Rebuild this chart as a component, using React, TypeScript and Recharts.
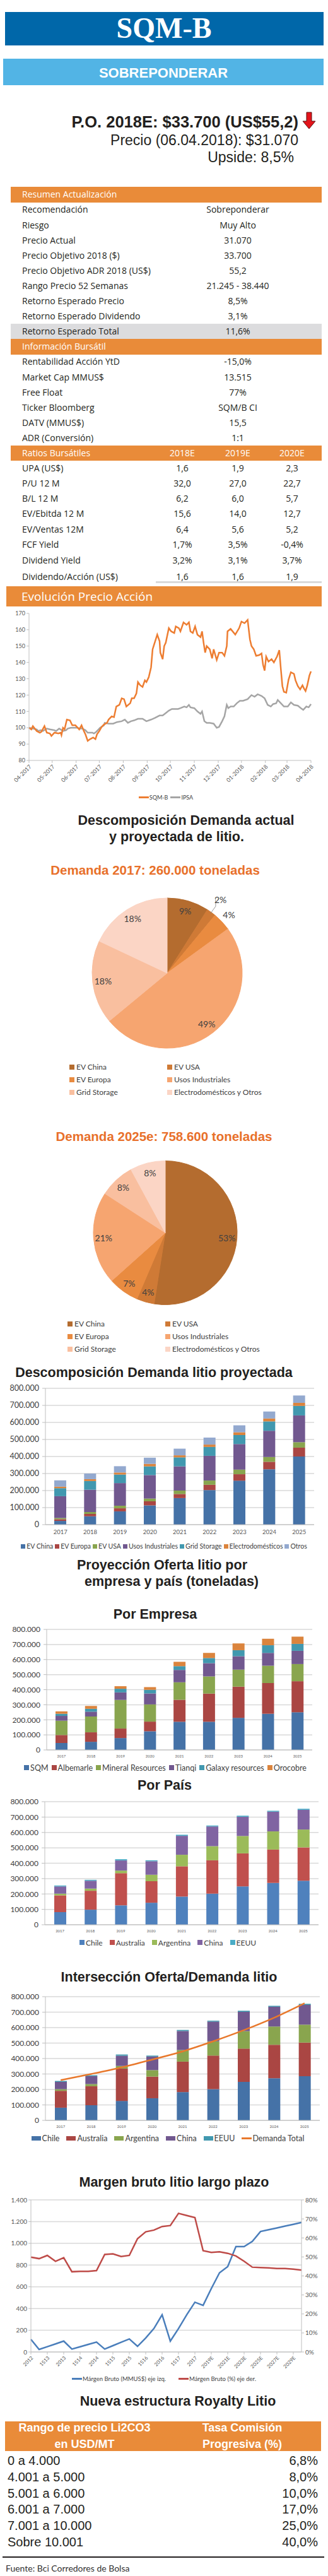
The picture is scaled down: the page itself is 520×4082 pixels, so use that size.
import React from 'react';
import {
  Bar,
  CartesianGrid,
  Cell,
  ComposedChart,
  Line,
  LineChart,
  Pie,
  PieChart,
  XAxis,
  YAxis
} from 'recharts';

const ARIAL = '"Liberation Sans", Arial, sans-serif';
const SANS = 'Lato, "Open Sans", sans-serif';
const MYRIAD = '"Open Sans", Lato, sans-serif';
const SERIF = '"Liberation Serif", "DejaVu Serif", serif';
const INK = '#231f20';
const AXIS_TXT = '#595959';
const GRID = '#d9d9d9';
const ORANGE = '#e98b39';

// ---------- tabla resumen
const resumenLabels = [
  'Recomendación',
  'Riesgo',
  'Precio Actual',
  'Precio Objetivo 2018 ($)',
  'Precio Objetivo ADR 2018 (US$)',
  'Rango Precio 52 Semanas',
  'Retorno Esperado Precio',
  'Retorno Esperado Dividendo',
  'Retorno Esperado Total'
];
const resumenValues = ['Sobreponderar', 'Muy Alto', '31.070', '33.700', '55,2', '21.245 - 38.440', '8,5%', '3,1%', '11,6%'];
const bursatilLabels = ['Rentabilidad Acción YtD', 'Market Cap MMUS$', 'Free Float', 'Ticker Bloomberg', 'DATV (MMUS$)', 'ADR (Conversión)'];
const bursatilValues = ['-15,0%', '13.515', '77%', 'SQM/B CI', '15,5', '1:1'];
const ratioYears = ['2018E', '2019E', '2020E'];
const ratioLabels = ['UPA (US$)', 'P/U 12 M', 'B/L 12 M', 'EV/Ebitda 12 M', 'EV/Ventas 12M', 'FCF Yield', 'Dividend Yield', 'Dividendo/Acción (US$)'];
const ratioValues = [
  ['1,6', '1,9', '2,3'],
  ['32,0', '27,0', '22,7'],
  ['6,2', '6,0', '5,7'],
  ['15,6', '14,0', '12,7'],
  ['6,4', '5,6', '5,2'],
  ['1,7%', '3,5%', '-0,4%'],
  ['3,2%', '3,1%', '3,7%'],
  ['1,6', '1,6', '1,9']
];

// ---------- evolucion precio (base 100, dias desde 04-2017)
const monthLabels = ['04-2017', '05-2017', '06-2017', '07-2017', '08-2017', '09-2017', '10-2017', '11-2017', '12-2017', '01-2018', '02-2018', '03-2018', '04-2018'];
const monthDays = [0, 30, 61, 91, 122, 153, 183, 214, 245, 275, 306, 334, 365];
const sqmDays = [0, 3, 5, 10, 14, 16, 20, 23, 27, 29, 33, 38, 41, 42, 44, 46, 49, 53, 56, 60, 63, 65, 68, 71, 73, 76, 79, 83, 86, 88, 91, 94, 97, 101, 103, 107, 110, 113, 117, 120, 123, 126, 131, 133, 136, 139, 141, 144, 147, 150, 152, 155, 158, 160, 162, 166, 169, 170, 173, 175, 177, 181, 184, 188, 190, 194, 196, 200, 204, 207, 209, 212, 215, 218, 222, 224, 226, 228, 230, 234, 237, 239, 243, 246, 250, 253, 256, 257, 261, 267, 272, 275, 279, 283, 286, 288, 291, 294, 298, 301, 303, 305, 307, 310, 314, 317, 321, 324, 326, 328, 330, 333, 336, 339, 343, 345, 348, 351, 354, 356, 358, 360, 363, 365];
const sqmValues = [100, 99, 101, 98, 97, 97.5, 101, 97, 96.5, 95, 97, 96.5, 97, 95.5, 100, 99, 105, 104.5, 101.5, 101.5, 100, 99, 101.5, 98, 96, 92, 93, 94, 93, 96, 98, 100.5, 102, 103, 105, 107, 106.5, 113, 114, 118, 117.5, 113, 115, 118, 118, 121, 128, 126, 125, 129, 128, 131, 137, 148, 151, 157, 153, 146, 142, 150, 152, 161, 159, 158, 162, 161, 159, 164.5, 163, 164.5, 159, 158, 162, 157, 155.5, 159, 152, 146, 150, 148, 142.5, 148, 141.5, 146, 146, 144, 150, 159, 160.5, 157, 161, 165, 164, 166, 154, 150, 148, 144, 144.5, 145.5, 138.5, 135, 143.5, 140.5, 142, 140, 143.5, 147.5, 136, 125.5, 122, 121.5, 129.5, 134, 133, 129, 125.5, 123.5, 126, 124, 122.5, 125.5, 132, 134.5];
const ipsaDays = [0, 5, 10, 12, 15, 18, 23, 27, 33, 35, 39, 44, 48, 50, 54, 60, 63, 65, 69, 73, 76, 82, 84, 87, 90, 92, 97, 98, 103, 109, 114, 120, 124, 128, 132, 136, 141, 147, 152, 158, 163, 169, 173, 177, 181, 185, 189, 193, 196, 201, 204, 207, 209, 214, 218, 222, 224, 227, 230, 234, 239, 243, 246, 250, 253, 256, 258, 261, 265, 269, 273, 277, 283, 288, 292, 296, 301, 305, 309, 313, 316, 320, 322, 326, 330, 335, 339, 343, 348, 352, 355, 359, 362, 365];
const ipsaValues = [100, 99.5, 99, 98, 98.5, 98, 99.5, 99, 98.5, 98, 99.5, 98, 98.5, 99.5, 100, 100, 100, 99.5, 99.5, 98.5, 97, 97, 96.5, 97.5, 99, 100, 101.5, 103, 102.5, 102.5, 103.5, 104, 105, 103, 104, 104.5, 105.5, 105.5, 104, 105, 106, 107.5, 107.5, 109, 110.5, 111.5, 111.5, 111.5, 112, 113, 112.5, 114, 112.5, 112, 110, 108.5, 110, 104, 103, 103, 102.5, 100, 100.5, 104, 107, 114, 112, 113, 113, 115, 116.5, 116.5, 117.5, 120, 119, 120.5, 119.5, 118, 114, 113, 114.5, 115, 117, 115, 113, 113, 115.5, 114, 113.5, 112, 111, 113, 112.5, 114.5];

// ---------- demanda (tortas, %)
const pieCategories = ['EV China', 'EV USA', 'EV Europa', 'Usos Industriales', 'Grid Storage', 'Electrodomésticos y Otros'];
const pieColors = ['#b46c2f', '#cf7a36', '#e98b40', '#f6a570', '#f9bf9f', '#fbd5c5'];
const demand2017Share = [9, 2, 4, 49, 18, 18];
const demand2025Share = [53, 4, 7, 21, 8, 8];

// ---------- demanda proyectada (miles de toneladas)
const years = ['2017', '2018', '2019', '2020', '2021', '2022', '2023', '2024', '2025'];
const evChina = [22, 49, 78, 113, 156, 203, 258, 325, 400];
const evEuropa = [10, 14, 18, 24, 24, 31, 38, 44, 52];
const evUsa = [7, 11, 15, 16, 20, 25, 27, 28, 32];
const usosInd = [128, 131, 133, 138, 142, 145, 150, 154, 157];
const gridStorage = [47, 51, 50, 51, 53, 52, 53, 55, 56];
const electro = [9, 11, 12, 15, 12, 14, 16, 17, 18];
const otros = [37, 33, 37, 36, 39, 41, 41, 41, 43];

// ---------- oferta por empresa (miles de toneladas)
const sqm = [46, 54, 79, 124, 187, 187, 213, 240, 250];
const albemarle = [53, 63, 63, 64, 146, 187, 207, 204, 206];
const mineralRes = [95, 105, 190, 114, 116, 114, 113, 115, 114];
const tianqi = [32, 32, 50, 73, 82, 88, 89, 85, 88];
const galaxy = [14, 19, 24, 24, 25, 34, 40, 51, 46];
const orocobre = [16, 19, 17, 18, 29, 34, 45, 43, 48];

// ---------- oferta por pais (miles de toneladas)
const chile = [82, 98, 126, 143, 183, 202, 249, 272, 286];
const australia = [109, 123, 209, 140, 197, 217, 215, 217, 217];
const argentina = [11, 14, 17, 42, 75, 92, 113, 118, 116];
const china = [47, 51, 66, 88, 123, 128, 125, 128, 128];
const eeuu = [6, 6, 8, 6, 7, 6, 7, 6, 7];

// ---------- margen bruto
const margenPeriods = ['2012', '1T13', '1S13', '9M13', '2013', '1T14', '1S14', '9M14', '2014', '1T15', '1S15', '9M15', '2015', '1T16', '1S16', '9M16', '2016', '1T17', '1S17', '9M17', '2017', '2018E', '2019E', '2020E', '2021E', '2022E', '2023E', '2024E', '2025E', '2026E', '2027E', '2028E', '2029E', '2030E'];
const margenMMUS = [116, 23, 49, 74, 100, 27, 48, 70, 91, 27, 58, 89, 120, 52, 129, 216, 342, 100, 216, 342, 458, 429, 584, 729, 786, 970, 970, 1018, 1109, 1126, 1142, 1159, 1175, 1192];
const margenPct = [49.9, 49.1, 50.8, 47.7, 49.6, 42.2, 42.4, 42.4, 42.8, 51.3, 51.6, 50.2, 50.8, 59.6, 63.2, 64.1, 66.0, 66.5, 72.9, 71.8, 70.7, 53.3, 52.4, 52.7, 51.9, 50.5, 47.7, 44.6, 44.4, 44.2, 43.9, 43.9, 43.6, 43.1];

// ---------- royalty
const royaltyRanges = ['0 a 4.000', '4.001 a 5.000', '5.001 a 6.000', '6.001 a 7.000', '7.001 a 10.000', 'Sobre 10.001'];
const royaltyRates = ['6,8%', '8,0%', '10,0%', '17,0%', '25,0%', '40,0%'];

const fmtMiles = (v: number) => String(v).replace(/\B(?=(\d{3})+(?!\d))/g, '.');
const yTicks = [0, 100000, 200000, 300000, 400000, 500000, 600000, 700000, 800000];

function Text({ x, y, size, children, align = 'left', weight = 400, color = INK, font = SANS }: any) {
  const lh = Math.round(size * 1.3);
  const base: React.CSSProperties = {
    position: 'absolute',
    top: y - lh / 2,
    height: lh,
    lineHeight: `${lh}px`,
    fontSize: size,
    fontWeight: weight,
    color,
    fontFamily: font,
    whiteSpace: 'nowrap'
  };
  if (align === 'left') return <div style={{ ...base, left: x }}>{children}</div>;
  if (align === 'right') return <div style={{ ...base, right: 520 - x, textAlign: 'right' }}>{children}</div>;
  return <div style={{ ...base, left: x - 300, width: 600, textAlign: 'center' }}>{children}</div>;
}

function Box({ x, y, w, h, color }: any) {
  return <div style={{ position: 'absolute', left: x, top: y, width: w, height: h, background: color }} />;
}

function Title({ x, y, children }: any) {
  return (
    <Text x={x} y={y} size={21.5} align="center" weight={700} font={ARIAL}>
      {children}
    </Text>
  );
}

function HtmlLegend({ cx, y, items, fontSize, gap, swatchW = 7, swatchH = 7 }: any) {
  return (
    <div
      style={{
        position: 'absolute',
        left: cx - 300,
        width: 600,
        top: y - 8,
        height: 16,
        display: 'flex',
        justifyContent: 'center',
        alignItems: 'center',
        gap,
        fontFamily: SANS,
        fontSize,
        color: '#404040',
        whiteSpace: 'nowrap'
      }}
    >
      {items.map((it: any) => (
        <div key={it.label} style={{ display: 'flex', alignItems: 'center' }}>
          {it.line ? (
            <span style={{ display: 'inline-block', width: 16, height: 3, background: it.color, marginRight: 1 }} />
          ) : (
            <span style={{ display: 'inline-block', width: swatchW, height: swatchH, background: it.color, marginRight: 2 }} />
          )}
          {it.label}
        </div>
      ))}
    </div>
  );
}

const ROW0 = 296;
const ROW_H = 24.1;

function SummaryTable() {
  const rows: any[] = [];
  rows.push({ head: true, label: 'Resumen Actualización' });
  resumenLabels.forEach((l, i) => rows.push({ label: l, vals: [resumenValues[i]], gray: i === resumenLabels.length - 1 }));
  rows.push({ head: true, label: 'Información Bursátil' });
  bursatilLabels.forEach((l, i) => rows.push({ label: l, vals: [bursatilValues[i]] }));
  rows.push({ head: true, label: 'Ratios Bursátiles', cols: ratioYears });
  ratioLabels.forEach((l, i) => rows.push({ label: l, vals: ratioValues[i] }));
  const colX = [289, 377, 463];
  return (
    <>
      {rows.map((r, i) => {
        const top = ROW0 + ROW_H * i + (i >= 24 ? (i - 23) * 1.5 : 0);
        const cy = top + 12.3;
        const color = r.head ? '#ffffff' : INK;
        const vals: string[] = r.cols || r.vals || [];
        return (
          <React.Fragment key={r.label}>
            {r.head && <Box x={17} y={top} w={493} h={24.5} color={ORANGE} />}
            {r.gray && <Box x={17} y={top} w={493} h={24} color="#dcdcde" />}
            <Text x={35} y={cy} size={14} color={color} font={MYRIAD}>
              {r.label}
            </Text>
            {vals.length === 1 && (
              <Text x={377} y={cy} size={14} align="center" color={color} font={MYRIAD}>
                {vals[0]}
              </Text>
            )}
            {vals.length === 3 &&
              vals.map((v, k) => (
                <Text key={k} x={colX[k]} y={cy} size={14} align="center" color={color} font={MYRIAD}>
                  {v}
                </Text>
              ))}
          </React.Fragment>
        );
      })}
      <Box x={247} y={921} w={263} h={3} color="#d9d9d9" />
    </>
  );
}

function PriceChart() {
  const sqmData = sqmDays.map((d, i) => ({ d, v: sqmValues[i] }));
  const ipsaData = ipsaDays.map((d, i) => ({ d, v: ipsaValues[i] }));
  return (
    <div style={{ position: 'absolute', left: 0, top: 962 }}>
      <LineChart width={520} height={300} margin={{ top: 10, right: 27, left: 6, bottom: 0 }}>
        <XAxis
          dataKey="d"
          type="number"
          domain={[0, 365]}
          ticks={monthDays}
          interval={0}
          tickFormatter={(v) => monthLabels[monthDays.indexOf(v)]}
          angle={-45}
          textAnchor="end"
          height={57}
          stroke="#bfbfbf"
          tickSize={4}
          tick={{ fontSize: 9, fill: AXIS_TXT, fontFamily: SANS }}
        />
        <YAxis
          type="number"
          domain={[80, 170]}
          ticks={[80, 90, 100, 110, 120, 130, 140, 150, 160, 170]}
          width={40}
          stroke="#bfbfbf"
          tickSize={4}
          tick={{ fontSize: 9, fill: AXIS_TXT, fontFamily: SANS }}
        />
        <Line data={ipsaData} dataKey="v" type="linear" stroke="#a5a5a5" strokeWidth={2.5} dot={false} isAnimationActive={false} />
        <Line data={sqmData} dataKey="v" type="linear" stroke="#ed7d31" strokeWidth={2.5} dot={false} isAnimationActive={false} />
      </LineChart>
    </div>
  );
}

const RAD = Math.PI / 180;

function makePieLabel(withOutside: boolean) {
  return (props: any) => {
    const { cx, cy, midAngle, outerRadius, value } = props;
    const outside = withOutside && value < 5;
    const r = outside ? outerRadius * (value < 3 ? 1.21 : 1.13) : outerRadius * 0.86;
    const cos = Math.cos(-midAngle * RAD);
    const sin = Math.sin(-midAngle * RAD);
    const x = cx + r * cos;
    const y = cy + r * sin;
    return (
      <g>
        {outside && value < 3 && (
          <polyline
            points={`${cx + outerRadius * 0.98 * cos},${cy + outerRadius * 0.98 * sin} ${cx + outerRadius * 1.1 * cos},${cy + outerRadius * 1.1 * sin} ${x - 8},${y - 2}`}
            fill="none"
            stroke="#7f7f7f"
            strokeWidth={0.8}
          />
        )}
        <text x={x} y={y} textAnchor="middle" dominantBaseline="central" fontSize={14} fill="#404040" fontFamily={SANS}>
          {`${value}%`}
        </text>
      </g>
    );
  };
}

function DemandPie({ top, height, cx, cy, r, shares, outsideLabels }: any) {
  const data = pieCategories.map((name, i) => ({ name, value: shares[i] }));
  return (
    <div style={{ position: 'absolute', left: 0, top }}>
      <PieChart width={520} height={height}>
        <Pie
          data={data}
          dataKey="value"
          cx={cx}
          cy={cy}
          outerRadius={r}
          startAngle={90}
          endAngle={-270}
          labelLine={false}
          label={makePieLabel(outsideLabels)}
          isAnimationActive={false}
        >
          {data.map((d, i) => (
            <Cell key={d.name} fill={pieColors[i]} stroke={pieColors[i]} />
          ))}
        </Pie>
      </PieChart>
    </div>
  );
}

function PieLegend({ rowsY, colX }: any) {
  return (
    <>
      {pieCategories.map((name, i) => {
        const x = colX[i % 2];
        const y = rowsY[Math.floor(i / 2)];
        return (
          <React.Fragment key={name}>
            <Box x={x} y={y - 4} w={8} h={8} color={pieColors[i]} />
            <Text x={x + 11} y={y} size={12} color="#404040">
              {name}
            </Text>
          </React.Fragment>
        );
      })}
    </>
  );
}

function StackedBars({ top, height, series, margin, yWidth, xFont, xHeight, line, yFont = 12 }: any) {
  const data = years.map((y, i) => {
    const row: any = { year: y };
    series.forEach((s: any) => (row[s.name] = s.values[i] * 1000));
    if (line) row[line.name] = line.values[i] * 1000;
    return row;
  });
  return (
    <div style={{ position: 'absolute', left: 0, top }}>
      <ComposedChart width={520} height={height} data={data} margin={margin}>
        <CartesianGrid vertical={false} stroke={GRID} strokeWidth={1.5} />
        <XAxis
          dataKey="year"
          tickLine={false}
          stroke="#bfbfbf"
          height={xHeight}
          tick={{ fontSize: xFont, fill: AXIS_TXT, fontFamily: SANS }}
        />
        <YAxis
          domain={[0, 800000]}
          ticks={yTicks}
          tickFormatter={fmtMiles}
          width={yWidth}
          stroke="#bfbfbf"
          tickSize={5}
          tickMargin={5}
          tick={{ fontSize: yFont, fill: '#404040', fontFamily: SANS }}
        />
        {series.map((s: any) => (
          <Bar key={s.name} dataKey={s.name} stackId="a" fill={s.color} barSize={19} isAnimationActive={false} />
        ))}
        {line && (
          <Line type="monotone" dataKey={line.name} stroke={line.color} strokeWidth={2.5} dot={false} isAnimationActive={false} />
        )}
      </ComposedChart>
    </div>
  );
}

const demandSeries = [
  { name: 'EV China', values: evChina, color: '#4572a7' },
  { name: 'EV Europa', values: evEuropa, color: '#aa4643' },
  { name: 'EV USA', values: evUsa, color: '#89a54e' },
  { name: 'Usos Industriales', values: usosInd, color: '#71588f' },
  { name: 'Grid Storage', values: gridStorage, color: '#4198af' },
  { name: 'Electrodomésticos', values: electro, color: '#db843d' },
  { name: 'Otros', values: otros, color: '#93a9cf' }
];
const empresaSeries = [
  { name: 'SQM', values: sqm, color: '#4572a7' },
  { name: 'Albemarle', values: albemarle, color: '#aa4643' },
  { name: 'Mineral Resources', values: mineralRes, color: '#89a54e' },
  { name: 'Tianqi', values: tianqi, color: '#71588f' },
  { name: 'Galaxy resources', values: galaxy, color: '#4198af' },
  { name: 'Orocobre', values: orocobre, color: '#db843d' }
];
const paisSeries = [
  { name: 'Chile', values: chile, color: '#4f81bd' },
  { name: 'Australia', values: australia, color: '#c0504d' },
  { name: 'Argentina', values: argentina, color: '#9bbb59' },
  { name: 'China', values: china, color: '#8064a2' },
  { name: 'EEUU', values: eeuu, color: '#4bacc6' }
];
const interSeries = [
  { name: 'Chile', values: chile, color: '#4572a7' },
  { name: 'Australia', values: australia, color: '#aa4643' },
  { name: 'Argentina', values: argentina, color: '#89a54e' },
  { name: 'China', values: china, color: '#71588f' },
  { name: 'EEUU', values: eeuu, color: '#4198af' }
];
const demandTotal = years.map((_, i) => demandSeries.reduce((s, d) => s + d.values[i], 0));

function MargenChart() {
  const data = margenPeriods.map((p, i) => ({ p, mmus: margenMMUS[i], pct: margenPct[i] }));
  return (
    <div style={{ position: 'absolute', left: 0, top: 3476 }}>
      <LineChart width={520} height={283} data={data} margin={{ top: 10, right: 0, left: 8, bottom: 0 }}>
        <CartesianGrid vertical={false} stroke={GRID} strokeWidth={1.5} />
        <XAxis
          dataKey="p"
          interval={1}
          angle={-45}
          textAnchor="end"
          height={32}
          stroke="#bfbfbf"
          tickSize={4}
          tick={{ fontSize: 8, fill: AXIS_TXT, fontFamily: SANS }}
        />
        <YAxis
          domain={[0, 1400]}
          ticks={[0, 200, 400, 600, 800, 1000, 1200, 1400]}
          tickFormatter={fmtMiles}
          width={41}
          stroke="#bfbfbf"
          tickSize={4}
          tick={{ fontSize: 10, fill: AXIS_TXT, fontFamily: SANS }}
        />
        <YAxis
          yAxisId="r"
          orientation="right"
          domain={[0, 80]}
          ticks={[0, 10, 20, 30, 40, 50, 60, 70, 80]}
          tickFormatter={(v) => `${v}%`}
          width={42}
          stroke="#bfbfbf"
          tickSize={4}
          tick={{ fontSize: 10, fill: AXIS_TXT, fontFamily: SANS }}
        />
        <Line dataKey="mmus" stroke="#4a7ebb" strokeWidth={2.5} dot={false} isAnimationActive={false} />
        <Line yAxisId="r" dataKey="pct" stroke="#be4b48" strokeWidth={2.5} dot={false} isAnimationActive={false} />
      </LineChart>
    </div>
  );
}

function DownArrow() {
  return (
    <svg style={{ position: 'absolute', left: 479, top: 177 }} width={23} height={29}>
      <path d="M7 1 H15 V15 H21 L11 27 L1 15 H7 Z" fill="#e3141b" stroke="#5a1010" strokeWidth={1} />
    </svg>
  );
}

export default function App() {
  return (
    <div style={{ position: 'relative', width: 520, height: 4082, background: '#fff', overflow: 'hidden' }}>
      <style>{'body{margin:0}'}</style>

      <Box x={8} y={19} w={505} h={53} color="#0067a9" />
      <Text x={260} y={45} size={46} align="center" weight={700} color="#fff" font={SERIF}>
        SQM-B
      </Text>
      <Box x={5} y={93} w={508} h={42} color="#52b4e5" />
      <Text x={259} y={115} size={22} align="center" weight={700} color="#fff" font={ARIAL}>
        SOBREPONDERAR
      </Text>

      <Text x={473} y={193} size={25.5} align="right" weight={700} font={ARIAL}>
        P.O. 2018E: $33.700 (US$55,2)
      </Text>
      <DownArrow />
      <Text x={473} y={222} size={23} align="right" font={ARIAL}>
        Precio (06.04.2018): $31.070
      </Text>
      <Text x={466} y={249} size={23} align="right" font={ARIAL}>
        Upside: 8,5%
      </Text>

      <SummaryTable />

      <Box x={10} y={929} w={500} h={32} color={ORANGE} />
      <Text x={34} y={945} size={19} color="#fff" font={MYRIAD}>
        Evolución Precio Acción
      </Text>
      <PriceChart />
      <HtmlLegend
        cx={263}
        y={1263}
        fontSize={9}
        gap={4}
        items={[
          { label: 'SQM-B', color: '#ed7d31', line: true },
          { label: 'IPSA', color: '#a5a5a5', line: true }
        ]}
      />

      <Title x={295} y={1300}>Descomposición Demanda actual</Title>
      <Title x={280} y={1326}>y proyectada de litio.</Title>

      <Text x={246} y={1378} size={20.5} align="center" weight={700} color="#e8702a" font={ARIAL}>
        Demanda 2017: 260.000 toneladas
      </Text>
      <DemandPie top={1400} height={275} cx={260} cy={137} r={119} shares={demand2017Share} outsideLabels />
      <PieLegend rowsY={[1691, 1711, 1731]} colX={[110, 265]} />

      <Text x={260} y={1800} size={20.5} align="center" weight={700} color="#e8702a" font={ARIAL}>
        Demanda 2025e: 758.600 toneladas
      </Text>
      <DemandPie top={1830} height={240} cx={257} cy={118.5} r={114} shares={demand2025Share} outsideLabels={false} />
      <PieLegend rowsY={[2098, 2118, 2138]} colX={[107, 262]} />

      <Title x={244} y={2175}>Descomposición Demanda litio proyectada</Title>
      <StackedBars
        top={2190}
        height={250}
        series={demandSeries}
        margin={{ top: 10, right: 22, left: 8, bottom: 0 }}
        yWidth={64}
        xFont={9.5}
        xHeight={24}
        yFont={12.5}
      />
      <HtmlLegend
        cx={260}
        y={2450}
        fontSize={10.5}
        gap={3}
        items={demandSeries.map((s) => ({ label: s.name, color: s.color }))}
      />

      <Title x={257} y={2480}>Proyección Oferta litio por</Title>
      <Title x={272} y={2506}>empresa y país (toneladas)</Title>
      <Title x={246} y={2558}>Por Empresa</Title>
      <StackedBars
        top={2572}
        height={219}
        series={empresaSeries}
        margin={{ top: 10, right: 25, left: 8, bottom: 0 }}
        yWidth={66}
        xFont={6}
        xHeight={18}
        yFont={12}
      />
      <HtmlLegend
        cx={262}
        y={2801}
        fontSize={12.5}
        gap={5}
        swatchW={8}
        swatchH={8}
        items={empresaSeries.map((s) => ({ label: s.name, color: s.color }))}
      />

      <Title x={261} y={2829}>Por País</Title>
      <StackedBars
        top={2845}
        height={221}
        series={paisSeries}
        margin={{ top: 10, right: 15, left: 8, bottom: 0 }}
        yWidth={63}
        xFont={6}
        xHeight={16}
        yFont={12}
      />
      <HtmlLegend
        cx={266}
        y={3078}
        fontSize={12}
        gap={11}
        swatchW={8}
        swatchH={8}
        items={paisSeries.map((s) => ({ label: s.name, color: s.color }))}
      />

      <Title x={268} y={3133}>Intersección Oferta/Demanda litio</Title>
      <StackedBars
        top={3154}
        height={224}
        series={interSeries}
        margin={{ top: 10, right: 13, left: 8, bottom: 0 }}
        yWidth={64}
        xFont={6}
        xHeight={18}
        yFont={12}
        line={{ name: 'Demanda Total', values: demandTotal, color: '#e8782c' }}
      />
      <HtmlLegend
        cx={266}
        y={3388}
        fontSize={12.5}
        gap={11}
        swatchW={15}
        swatchH={7}
        items={[...interSeries.map((s) => ({ label: s.name, color: s.color })), { label: 'Demanda Total', color: '#e8782c', line: true }]}
      />

      <Title x={276} y={3458}>Margen bruto litio largo plazo</Title>
      <MargenChart />
      <HtmlLegend
        cx={260}
        y={3769}
        fontSize={9.5}
        gap={20}
        items={[
          { label: 'Márgen Bruto (MMUS$) eje izq.', color: '#4a7ebb', line: true },
          { label: 'Márgen Bruto (%) eje der.', color: '#be4b48', line: true }
        ]}
      />

      <Title x={282} y={3805}>Nueva estructura Royalty Litio</Title>
      <Box x={8} y={3837} w={501} h={47} color={ORANGE} />
      <Text x={134} y={3847} size={18} align="center" weight={700} color="#fff" font={ARIAL}>
        Rango de precio Li2CO3
      </Text>
      <Text x={134} y={3873} size={18} align="center" weight={700} color="#fff" font={ARIAL}>
        en USD/MT
      </Text>
      <Text x={384} y={3847} size={18} align="center" weight={700} color="#fff" font={ARIAL}>
        Tasa Comisión
      </Text>
      <Text x={384} y={3873} size={18} align="center" weight={700} color="#fff" font={ARIAL}>
        Progresiva (%)
      </Text>
      {royaltyRanges.map((r, i) => (
        <React.Fragment key={r}>
          <Text x={12} y={3899 + 25.8 * i} size={20} font={ARIAL}>
            {r}
          </Text>
          <Text x={504} y={3899 + 25.8 * i} size={20} align="right" font={ARIAL}>
            {royaltyRates[i]}
          </Text>
        </React.Fragment>
      ))}
      <Box x={4} y={4051} w={510} h={2} color={INK} />
      <Text x={9} y={4070} size={14} color="#333">
        Fuente: Bci Corredores de Bolsa
      </Text>
    </div>
  );
}
